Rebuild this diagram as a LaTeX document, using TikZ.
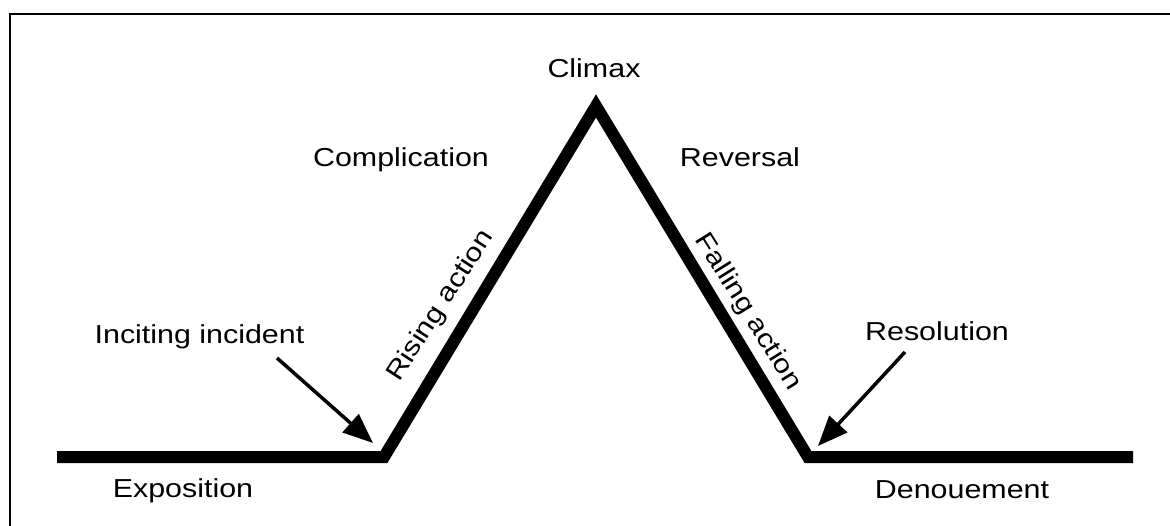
\documentclass[tikz,border=0pt]{standalone}
\usepackage{fontspec}
\setmainfont{Liberation Sans}[FakeStretch=1.17]
\usetikzlibrary{arrows.meta}
\begin{document}
\begin{tikzpicture}[x=1pt,y=-1pt,
  lbl/.style={inner sep=0pt,font=\fontsize{26}{31}\selectfont},
  plot/.style={line width=12pt,miter limit=20,line join=miter},
  ptr/.style={line width=3.5pt,-{Triangle[length=30pt,width=24pt]},shorten >=0pt},
  frame/.style={line width=2pt}]
\useasboundingbox (0,0) rectangle (1170,526);
\draw[frame] (10,530) -- (10,13.7) -- (1175,13.7);
% plot line
\coordinate (L) at (57,457);
\coordinate (A) at (384,457);
\coordinate (P) at (596,106);
\coordinate (C) at (808,457);
\coordinate (R) at (1133,457);
\draw[plot] (L) -- (A) -- (P) -- (C) -- (R);
% labels
\node[lbl,anchor=base] (climax) at (594,78) {Climax};
\node[lbl,anchor=base] (compl) at (401,167) {Complication};
\node[lbl,anchor=base] (rev) at (740,167) {Reversal};
\node[lbl,anchor=base] (incit) at (199.5,344) {Inciting incident};
\node[lbl,anchor=base] (resol) at (937,341) {Resolution};
\node[lbl,anchor=base] (expo) at (183,497) {Exposition};
\node[lbl,anchor=base] (denou) at (962,498) {Denouement};
\node[lbl,rotate=57] (rising) at (441,306) {Rising action};
\node[lbl,rotate=-58] (falling) at (748,312) {Falling action};
% arrows
\coordinate (it) at (277,358);
\coordinate (ih) at (373,443);
\coordinate (rt) at (905,352);
\coordinate (rh) at (818,446);
\draw[ptr] (it) -- (ih);
\draw[ptr] (rt) -- (rh);
\end{tikzpicture}
\end{document}
